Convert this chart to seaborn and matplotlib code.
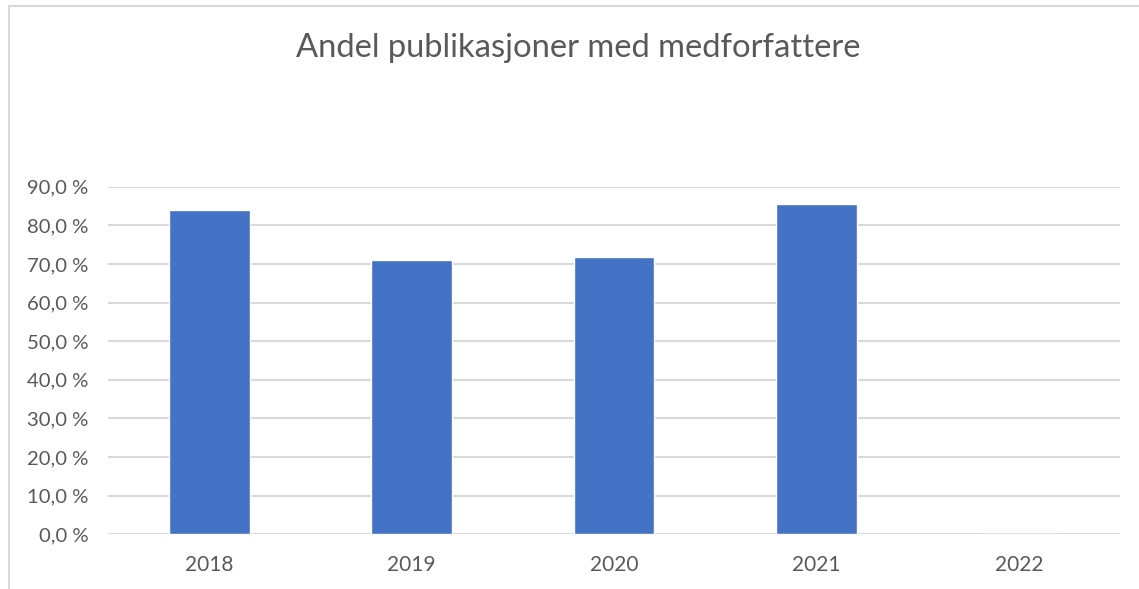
import numpy as np
import pandas as pd
import matplotlib
matplotlib.use('Agg')
import matplotlib.pyplot as plt
import seaborn as sns
from matplotlib.patches import Rectangle

# Data
years = ['2018', '2019', '2020', '2021', '2022']
share = [84.0, 70.9, 71.9, 85.6, 0.0]  # prosent
yticks = [0, 10, 20, 30, 40, 50, 60, 70, 80, 90]
ytick_labels = [f'{v:.1f} %'.replace('.', ',') for v in yticks]

df = pd.DataFrame({'year': years, 'share': share})

sns.set_theme(style='white')
plt.rcParams['font.family'] = ['Lato', 'DejaVu Sans']

fig = plt.figure(figsize=(11.39, 5.89), dpi=100)
ax = fig.add_axes([108 / 1139, 1 - 534.3 / 589, (1120 - 108) / 1139, (534.3 - 186.7) / 589])

sns.barplot(data=df, x='year', y='share', order=years, color='#4472C4',
            saturation=1, width=0.4, ax=ax)

ax.set_ylim(0, 90)
ax.set_xlim(-0.5, 4.5)
ax.set_yticks(yticks)
ax.set_yticklabels(ytick_labels)
ax.set_xlabel('')
ax.set_ylabel('')
ax.yaxis.grid(True, color='#d9d9d9', linewidth=1.5)
ax.set_axisbelow(True)
for s in ax.spines.values():
    s.set_visible(False)
ax.tick_params(axis='y', length=0, pad=14, labelsize=14.6, labelcolor='#595959')
ax.tick_params(axis='x', length=0, pad=15, labelsize=15, labelcolor='#595959')

fig.text(578 / 1139, 1 - 48 / 589, 'Andel publikasjoner med medforfattere',
         ha='center', va='center', fontsize=23.6, color='#595959')

# chart border
fig.patches.append(Rectangle((9 / 1139, -0.1), 1.2, 1 - 6 / 589 + 0.1,
                             transform=fig.transFigure, fill=False,
                             edgecolor='#d9d9d9', linewidth=1.5))

fig.savefig('out.png', dpi=100)
